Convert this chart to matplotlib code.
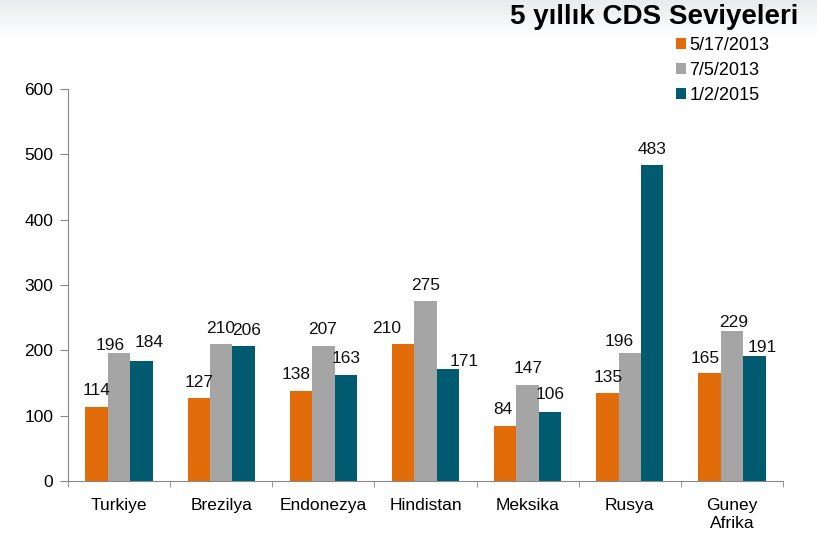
import numpy as np
import matplotlib
matplotlib.use('Agg')
import matplotlib.pyplot as plt

plt.rcParams['font.family'] = ['Liberation Sans', 'DejaVu Sans']

# ===== DATA =====
countries = ['Turkiye', 'Brezilya', 'Endonezya', 'Hindistan', 'Meksika', 'Rusya', 'Guney\nAfrika']
series_names = ['5/17/2013', '7/5/2013', '1/2/2015']
cds_2013_05 = [114, 127, 138, 210, 84, 135, 165]
cds_2013_07 = [196, 210, 207, 275, 147, 196, 229]
cds_2015_01 = [184, 206, 163, 171, 106, 483, 191]
colors = ['#E36C0A', '#A5A5A5', '#005A70']

# etiket kaydırmaları (piksel): (seri, ülke) -> (dx, dy); varsayılan (0, 11.5)
label_nudge = {
    (1, 0): (-9, 3), (2, 0): (7.5, 14),
    (1, 1): (-1, 11), (2, 1): (3, 11),
    (0, 2): (-5, 12), (1, 2): (-1, 12),
    (0, 3): (-16, 11), (2, 3): (16, 3),
    (0, 4): (-2, 12), (2, 4): (0, 13),
    (0, 5): (1, 11), (1, 5): (-11, 7),
    (0, 6): (-4, 10), (1, 6): (2, 4), (2, 6): (8, 4),
}
PX2PT = 0.72

fig = plt.figure(figsize=(8.17, 5.36), dpi=100)

# açık gri üst şerit (gradyan)
bg = fig.add_axes([0, 1 - 40 / 536, 1, 40 / 536], zorder=-5)
grad = np.linspace(0, 1, 50).reshape(-1, 1)
bg.imshow(grad, aspect='auto', cmap=matplotlib.colors.LinearSegmentedColormap.from_list(
    'g', ['#E9ECEF', '#FFFFFF']), extent=[0, 1, 0, 1])
bg.axis('off')

ax = fig.add_axes([68 / 817, 1 - 481 / 536, (783 - 68) / 817, (481 - 89) / 536])

x = np.arange(len(countries))
w = 0.22
all_series = [cds_2013_05, cds_2013_07, cds_2015_01]
for i, (vals, name, c) in enumerate(zip(all_series, series_names, colors)):
    bars = ax.bar(x + (i - 1) * w, vals, width=w, color=c, label=name, zorder=2)
    for j, (b, v) in enumerate(zip(bars, vals)):
        dx, dy = label_nudge.get((i, j), (0, 11.5))
        ax.annotate(f'{v}', (b.get_x() + b.get_width() / 2, v),
                    xytext=(dx * PX2PT, dy * PX2PT), textcoords='offset points',
                    ha='center', va='baseline', fontsize=12.5, color='#111111')

ax.set_xlim(-0.5, len(countries) - 0.5)
ax.set_ylim(0, 600)
ax.set_yticks(range(0, 601, 100))
ax.tick_params(axis='y', length=5.5, color='#888888', labelsize=12.5, pad=5)
ax.set_xticks(x)
ax.set_xticklabels(countries, fontsize=12.5, linespacing=1.25)
ax.tick_params(axis='x', length=0, pad=12)
ax.set_xticks(np.arange(-0.5, len(countries)), minor=True)
ax.tick_params(axis='x', which='minor', length=4, color='#888888')
for s in ['top', 'right']:
    ax.spines[s].set_visible(False)
for s in ['left', 'bottom']:
    ax.spines[s].set_color('#888888')

fig.text(798 / 817, 1 - 17 / 536, '5 yıllık CDS Seviyeleri', ha='right', va='center',
         fontsize=20, fontweight='bold')

fig.legend(loc='upper left', bbox_to_anchor=(676 / 817, 1 - 37 / 536), frameon=False,
           fontsize=13, handlelength=0.55, handleheight=0.55, handletextpad=0.2,
           labelspacing=0.44, borderaxespad=0, borderpad=0)

fig.savefig('out.png', dpi=100)
